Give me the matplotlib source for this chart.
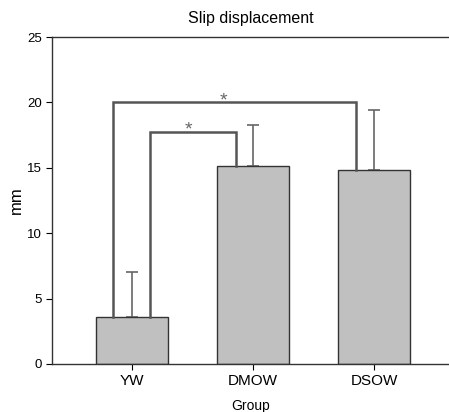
import numpy as np
import matplotlib
matplotlib.use("Agg")
import matplotlib.pyplot as plt

plt.rcParams['font.family'] = ['Liberation Sans', 'DejaVu Sans']

# data
groups = ["YW", "DMOW", "DSOW"]
means = [3.6, 15.13, 14.86]
errs = [3.43, 3.14, 4.56]
# significance brackets: (left x, right x, height, left foot, right foot, star x)
brackets = [
    (-0.155, 1.849, 20.0, 3.6, 14.86, 0.76),
    (0.151, 0.857, 17.76, 3.6, 15.13, 0.47),
]

fig = plt.figure(figsize=(4.49, 4.12), dpi=100)
ax = fig.add_axes([52/449, 48/412, 1 - 52/449, (364-37)/412])

x = np.arange(len(groups))
ax.bar(x, means, width=0.6, color="#c0c0c0", edgecolor="#333333", linewidth=1.0, zorder=2)
ax.errorbar(x, means, yerr=[np.zeros(3), errs], fmt="none", ecolor="#666666",
            elinewidth=1.2, capsize=4, capthick=1.2, zorder=1)

for xl, xr, h, fl, fr, sx in brackets:
    ax.plot([xl, xl, xr, xr], [fl, h, h, fr], color="#555555", lw=1.8,
            solid_joinstyle="miter", zorder=3)
    ax.text(sx, h - 0.2, "*", ha="center", va="baseline", fontsize=14, color="#666666")

ax.set_xlim(-0.661, 2.62)
ax.set_ylim(0, 25)
ax.set_yticks([0, 5, 10, 15, 20, 25])
ax.set_xticks(x)
ax.set_xticklabels(groups, fontsize=11)
ax.tick_params(axis="y", labelsize=9.5, length=4, direction="out")
ax.tick_params(axis="x", length=4, direction="out", pad=3)
ax.spines["right"].set_visible(False)
for s in ["left", "top", "bottom"]:
    ax.spines[s].set_color("#333333")
    ax.spines[s].set_linewidth(1.0)

ax.set_ylabel("mm", fontsize=12, labelpad=2)
ax.set_xlabel("Group", fontsize=10, labelpad=8)
ax.set_title("Slip displacement", fontsize=11.5, pad=10)

fig.savefig("out.png", dpi=100)
